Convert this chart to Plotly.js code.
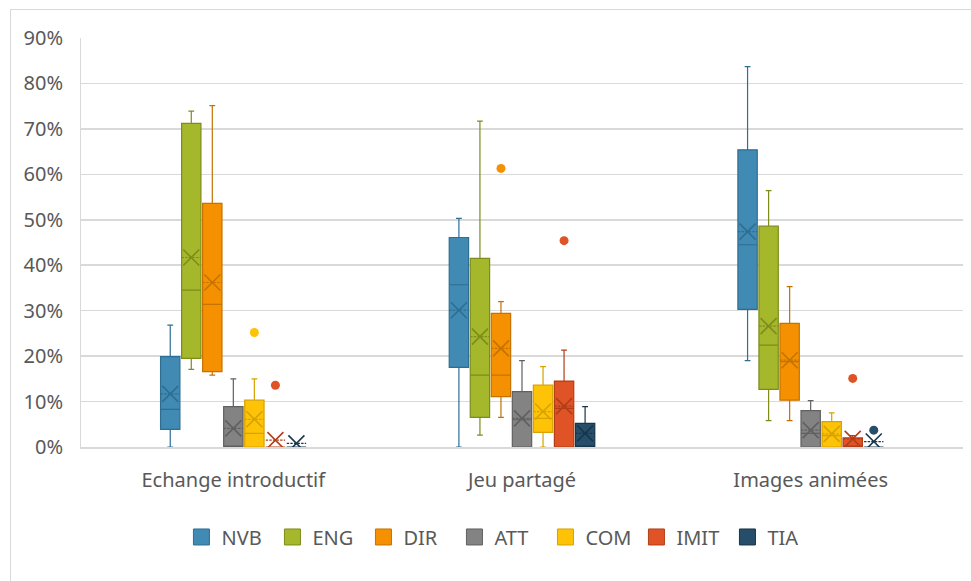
<!DOCTYPE html>
<html>
<head>
<meta charset="utf-8">
<script src="https://cdn.plot.ly/plotly-3.0.1.min.js"></script>
<style>
  html, body { margin: 0; padding: 0; background: #fff; }
  #wrap { position: relative; width: 971px; height: 581px; overflow: hidden; }
  #chart { position: absolute; left: 0; top: 0; width: 971px; height: 581px; }
  .edgeL { position: absolute; left: 10px; top: 9px; width: 1px; height: 572px; background: #D9D9D9; }
  .edgeT { position: absolute; left: 10px; top: 9px; width: 961px; height: 1px; background: #D9D9D9; }
</style>
</head>
<body>
<div id="wrap">
  <div id="chart"></div>
  <div class="edgeL"></div>
  <div class="edgeT"></div>
</div>
<script>
// ---- Data (fractions) ----
const categories = ['Echange introductif', 'Jeu partagé', 'Images animées'];
const seriesNames = ['NVB', 'ENG', 'DIR', 'ATT', 'COM', 'IMIT', 'TIA'];

const q1Values = [
  [0.039, 0.175, 0.303],
  [0.195, 0.065, 0.127],
  [0.166, 0.111, 0.103],
  [0.000, 0.000, 0.000],
  [0.000, 0.032, 0.000],
  [0.000, 0.000, 0.000],
  [0.000, 0.000, 0.000]
];
const medianValues = [
  [0.083, 0.357, 0.445],
  [0.345, 0.158, 0.224],
  [0.314, 0.158, 0.188],
  [0.000, 0.060, 0.030],
  [0.030, 0.063, 0.025],
  [0.000, 0.085, 0.000],
  [0.000, 0.000, 0.000]
];
const q3Values = [
  [0.199, 0.461, 0.654],
  [0.712, 0.415, 0.486],
  [0.536, 0.294, 0.272],
  [0.089, 0.122, 0.080],
  [0.103, 0.136, 0.056],
  [0.000, 0.145, 0.020],
  [0.000, 0.052, 0.000]
];
const lowerFenceValues = [
  [0.000, 0.000, 0.190],
  [0.171, 0.026, 0.058],
  [0.158, 0.065, 0.058],
  [0.000, 0.000, 0.000],
  [0.000, 0.000, 0.000],
  [0.000, 0.000, 0.000],
  [0.000, 0.000, 0.000]
];
const upperFenceValues = [
  [0.268, 0.503, 0.837],
  [0.739, 0.717, 0.564],
  [0.751, 0.320, 0.353],
  [0.150, 0.190, 0.102],
  [0.150, 0.177, 0.075],
  [0.000, 0.213, 0.025],
  [0.000, 0.089, 0.000]
];
const meanValues = [
  [0.117, 0.301, 0.474],
  [0.417, 0.243, 0.266],
  [0.362, 0.217, 0.191],
  [0.041, 0.063, 0.037],
  [0.061, 0.078, 0.029],
  [0.015, 0.090, 0.018],
  [0.008, 0.030, 0.012]
];
const outlierValues = [
  [[], [], []],
  [[], [], []],
  [[], [0.613], []],
  [[], [], []],
  [[0.252], [], []],
  [[0.136], [0.454], [0.151]],
  [[], [], [0.037]]
];
const yTicks = [0, 0.1, 0.2, 0.3, 0.4, 0.5, 0.6, 0.7, 0.8, 0.9];

// ---- Styles ----
const fillColors = ['#418AB3', '#A5B72A', '#F59100', '#838383', '#FEC306', '#DF5327', '#264E6B'];
const lineColors = ['#2F6E93', '#7E8C1C', '#C47200', '#606060', '#D6A200', '#B23E17', '#183649'];
const textColor = '#595959';
const gridColor = '#D9D9D9';
const fontFamily = '"Noto Sans", "Open Sans", sans-serif';
const fontSize = 20;

const traces = [];
seriesNames.forEach((name, s) => {
  traces.push({
    type: 'box',
    name: name,
    legendgroup: name,
    showlegend: false,
    x: categories,
    q1: q1Values[s],
    median: medianValues[s],
    q3: q3Values[s],
    lowerfence: lowerFenceValues[s],
    upperfence: upperFenceValues[s],
    mean: meanValues[s],
    boxpoints: false,
    offsetgroup: name,
    fillcolor: fillColors[s],
    line: { color: lineColors[s], width: 1.2 },
    whiskerwidth: 0.3,
    hoverinfo: 'y'
  });
});
// mean markers (X)
seriesNames.forEach((name, s) => {
  traces.push({
    type: 'box',
    name: name + ' mean',
    legendgroup: name,
    x: categories,
    y: meanValues[s],
    offsetgroup: name,
    boxpoints: 'all',
    jitter: 0,
    pointpos: 0,
    fillcolor: 'rgba(0,0,0,0)',
    line: { width: 0, color: 'rgba(0,0,0,0)' },
    marker: { symbol: 'x-thin-open', size: 16, color: lineColors[s], line: { color: lineColors[s], width: 1.6 } },
    showlegend: false,
    hoverinfo: 'skip'
  });
});
// outliers
seriesNames.forEach((name, s) => {
  const ox = [], oy = [];
  outlierValues[s].forEach((arr, c) => arr.forEach(v => { ox.push(categories[c]); oy.push(v); }));
  if (!oy.length) return;
  traces.push({
    type: 'box',
    name: name + ' outliers',
    legendgroup: name,
    x: ox,
    y: oy,
    offsetgroup: name,
    boxpoints: 'all',
    jitter: 0,
    pointpos: 0,
    fillcolor: 'rgba(0,0,0,0)',
    line: { width: 0, color: 'rgba(0,0,0,0)' },
    marker: { symbol: 'circle', size: 9, color: fillColors[s], line: { width: 0 } },
    showlegend: false,
    hoverinfo: 'skip'
  });
});
// legend entries (square swatches)
seriesNames.forEach((name, s) => {
  traces.push({
    type: 'scatter',
    mode: 'markers',
    name: name,
    legendgroup: name,
    x: [categories[0]],
    y: [null],
    marker: { symbol: 'square', size: 16, color: fillColors[s], line: { color: lineColors[s], width: 1 } },
    showlegend: true,
    hoverinfo: 'skip'
  });
});

const layout = {
  width: 971,
  height: 581,
  margin: { l: 81, r: 8, t: 38, b: 134 },
  paper_bgcolor: 'rgba(0,0,0,0)',
  plot_bgcolor: '#ffffff',
  boxmode: 'group',
  boxgap: 0.49,
  boxgroupgap: 0.08,
  font: { family: fontFamily, size: fontSize, color: textColor },
  showlegend: true,
  legend: {
    orientation: 'h',
    x: 0.475, xanchor: 'center',
    y: -0.22, yanchor: 'middle',
    font: { family: fontFamily, size: fontSize, color: textColor },
    traceorder: 'normal',
    itemsizing: 'trace',
    entrywidth: 46,
    entrywidthmode: 'pixels'
  },
  xaxis: {
    type: 'category',
    categoryorder: 'array',
    categoryarray: categories,
    showline: true,
    linecolor: gridColor,
    linewidth: 1.5,
    ticks: '',
    showgrid: false,
    ticklabelstandoff: 14,
    tickfont: { family: fontFamily, size: fontSize, color: textColor }
  },
  yaxis: {
    range: [0, 0.9],
    tickvals: yTicks,
    tickformat: '.0%',
    showgrid: true,
    gridcolor: gridColor,
    gridwidth: 1.5,
    zeroline: false,
    showline: true,
    linecolor: gridColor,
    linewidth: 1,
    ticks: '',
    ticklabelstandoff: 13,
    tickfont: { family: fontFamily, size: fontSize, color: textColor }
  }
};

Plotly.newPlot('chart', traces, layout, { displayModeBar: false, staticPlot: true });
</script>
</body>
</html>
